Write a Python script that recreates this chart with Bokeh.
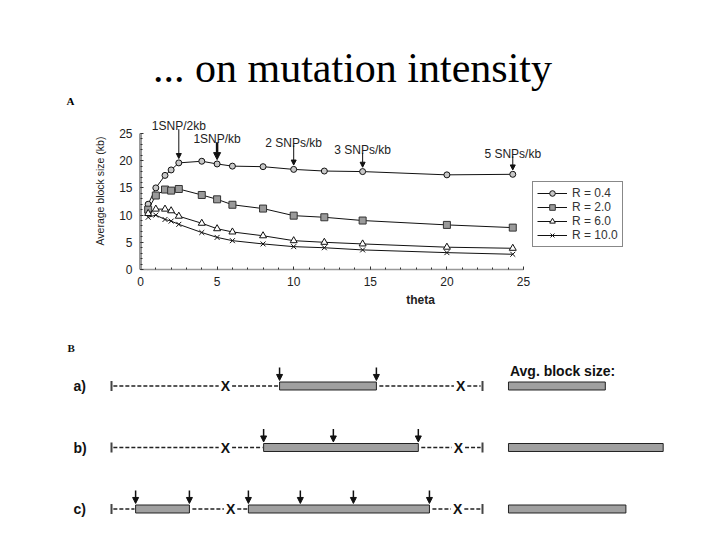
import numpy as np
from bokeh.plotting import figure
from bokeh.models import (Range1d, ColumnDataSource, Arrow, NormalHead,
                          Legend, LegendItem, SingleIntervalTicker)
from bokeh.layouts import column
from bokeh.embed import file_html
from bokeh.resources import INLINE
from bokeh.core.properties import value

# ---------------- data: panel A ----------------
theta = [0.5, 1.0, 1.6, 2.0, 2.5, 4.0, 5.0, 6.0, 8.0, 10.0, 12.0, 14.5, 20.0, 24.3]
r04 = [12.0, 15.0, 17.3, 18.3, 19.6, 19.9, 19.4, 19.0, 18.9, 18.4, 18.1, 18.0, 17.4, 17.5]
r20 = [11.0, 13.6, 14.7, 14.5, 14.8, 13.7, 12.9, 11.9, 11.2, 9.9, 9.6, 9.0, 8.2, 7.7]
r60 = [10.3, 11.1, 11.1, 10.8, 9.8, 8.5, 7.5, 6.9, 6.2, 5.3, 5.0, 4.7, 4.1, 3.9]
r100 = [9.6, 10.0, 9.2, 8.9, 8.3, 6.8, 5.9, 5.3, 4.7, 4.2, 4.0, 3.6, 3.1, 2.8]
series_labels = ["R = 0.4", "R = 2.0", "R = 6.0", "R = 10.0"]
snp_labels = ["1SNP/2kb", "1SNP/kb", "2 SNPs/kb", "3 SNPs/kb", "5 SNPs/kb"]
snp_theta = [2.5, 5.0, 10.0, 14.5, 24.3]
title_text = "... on mutation intensity"
x_label = "theta"
y_label = "Average block size (kb)"

# ---------------- data: panel B ----------------
row_names = ["a)", "b)", "c)"]
row_x_marks = [[30.7, 94.1], [30.7, 93.5], [32.1, 93.3]]
row_blocks = [[(45.3, 71.4)], [(41.0, 82.7)], [(6.5, 21.0), (36.9, 85.7)]]
row_snps = [[45.3, 71.4], [41.0, 59.8, 82.7], [6.5, 21.0, 36.9, 50.9, 65.2, 85.7]]
region = (0.0, 100.0)
avg_title = "Avg. block size:"

SANS = value("Liberation Sans")
SERIF = value("Liberation Serif")
W = 720

# ================= header strip (title + panel letter) =================
p0 = figure(width=W, height=110, x_range=Range1d(0, W), y_range=Range1d(110, 0),
            output_backend="svg", toolbar_location=None, x_axis_type=None, y_axis_type=None,
            min_border=0, min_border_left=0, min_border_right=0, min_border_top=0, min_border_bottom=0)
p0.frame_align = False
p0.outline_line_color = None
p0.grid.visible = False
p0.text(x=[352], y=[67], text=[title_text], text_font=SERIF, text_font_size="42px",
        text_align="center", text_baseline="alphabetic", text_color="black")
p0.text(x=[66], y=[100], text=["A"], text_font=SERIF, text_font_size="11px", text_font_style="bold",
        text_align="left", text_baseline="alphabetic", text_color="black")

# ================= Panel A chart =================
PXX = 15.32   # px per theta unit
PXY = 5.44    # px per kb
FRAME_W = 560
FRAME_H = 157
XEND = FRAME_W / PXX
YTOP = FRAME_H / PXY
pA = figure(width=W, height=210, x_range=Range1d(0, XEND), y_range=Range1d(0, YTOP),
            output_backend="svg", toolbar_location=None,
            min_border_left=140, min_border_right=W - 140 - FRAME_W, min_border_top=2, min_border_bottom=51)
pA.frame_align = False
pA.outline_line_color = None
pA.grid.visible = False

for ax, lab in ((pA.xaxis[0], x_label), (pA.yaxis[0], y_label)):
    ax.bounds = (0, 25)
    ax.ticker = SingleIntervalTicker(interval=5, num_minor_ticks=5)
    ax.major_tick_in = 3
    ax.major_tick_out = 0
    ax.minor_tick_in = 2
    ax.minor_tick_out = 0
    ax.major_tick_line_color = "#333333"
    ax.minor_tick_line_color = "#333333"
    ax.major_label_text_font = "Liberation Sans"
    ax.major_label_text_font_size = "12px"
    ax.major_label_text_color = "#222222"
    ax.axis_label = lab
    ax.axis_label_text_font = "Liberation Sans"
    ax.axis_label_text_color = "#222222"

pA.xaxis.axis_line_color = "#999999"
pA.xaxis.axis_line_width = 1.5
pA.xaxis.major_label_standoff = 7
pA.xaxis.axis_label_standoff = 4
pA.xaxis.axis_label_text_font_size = "12px"
pA.xaxis.axis_label_text_font_style = "bold"
pA.yaxis.axis_line_color = "#999999"
pA.yaxis.axis_line_width = 3
pA.yaxis.major_label_standoff = 8
pA.yaxis.axis_label_standoff = 10
pA.yaxis.axis_label_text_font_size = "10.5px"
pA.yaxis.axis_label_text_font_style = "normal"

styles = [
    dict(marker="circle", size=6, fill_color="#c8c8c8", line_color="#111111"),
    dict(marker="square", size=7, fill_color="#9a9a9a", line_color="#333333"),
    dict(marker="triangle", size=7, fill_color="white", line_color="#111111"),
    dict(marker="x", size=7, fill_color=None, line_color="#111111"),
]
items = []
for ys, lab, st in zip([r04, r20, r60, r100], series_labels, styles):
    src = ColumnDataSource(dict(x=theta, y=ys))
    ln = pA.line("x", "y", source=src, line_color="#111111", line_width=1)
    sc = pA.scatter("x", "y", source=src, marker=st["marker"], size=st["size"],
                    fill_color=st["fill_color"], line_color=st["line_color"], line_width=1)
    items.append(LegendItem(label=lab, renderers=[ln, sc]))

leg = Legend(items=items, location=(392, 22), orientation="vertical",
             border_line_color="#111111", border_line_width=1,
             background_fill_color="white", background_fill_alpha=1,
             label_text_font="Liberation Sans", label_text_font_size="12px",
             label_text_color="#333333", glyph_width=30, glyph_height=14,
             label_height=14, label_standoff=5, spacing=0, padding=4, margin=0)
pA.add_layout(leg)

# SNP density annotations
lab_y = [26.3, 23.9, 23.3, 21.9, 21.3]
widths = [1, 2.5, 1, 1, 1]
top_val = dict(zip(theta, r04))
pA.text(x=snp_theta, y=lab_y, text=snp_labels, text_font=SANS, text_font_size="12px",
        text_align="center", text_baseline="alphabetic", text_color="#222222")
for t, ly, w in zip(snp_theta, lab_y, widths):
    pA.add_layout(Arrow(x_start=t, y_start=ly - 0.5, x_end=t, y_end=top_val[t] + 0.8,
                        line_width=w, line_color="#111111",
                        end=NormalHead(size=5 if w < 2 else 7, fill_color="#111111",
                                       line_color="#111111")))

# ================= Panel B diagram =================
UPX = 3.71      # px per region unit
U0 = 111        # px of region start
RPX = 61.5      # px per row
R0 = 65.5       # px (within strip) of first row
HB = 220
pB = figure(width=W, height=HB, x_range=Range1d(-U0 / UPX, (W - U0) / UPX),
            y_range=Range1d((HB - R0) / RPX, -R0 / RPX),
            output_backend="svg", toolbar_location=None, x_axis_type=None, y_axis_type=None,
            min_border=0, min_border_left=0, min_border_right=0, min_border_top=0, min_border_bottom=0)
pB.frame_align = False
pB.outline_line_color = None
pB.grid.visible = False

HALF = 0.065
# dashed connecting lines
sx0, sx1, sy = [], [], []
for i in range(3):
    occ = [(m - 1.8, m + 1.8) for m in row_x_marks[i]] + [(s - 0.3, e + 0.8) for s, e in row_blocks[i]]
    occ.sort()
    cur = region[0] + 0.5
    for a, b in occ:
        if a > cur:
            sx0.append(cur); sx1.append(a); sy.append(i)
        cur = max(cur, b)
    if cur < region[1] - 0.5:
        sx0.append(cur); sx1.append(region[1] - 0.5); sy.append(i)
pB.segment(x0=sx0, y0=sy, x1=sx1, y1=sy, line_color="#222222", line_width=1.3, line_dash="4 2")

# region end bars
ex, ey0, ey1 = [], [], []
for i in range(3):
    for e in region:
        ex.append(e); ey0.append(i - 0.08); ey1.append(i + 0.08)
pB.segment(x0=ex, y0=ey0, x1=ex, y1=ey1, line_color="#444444", line_width=2)

# recombination X marks
xm_x = [m for i in range(3) for m in row_x_marks[i]]
xm_y = [i for i in range(3) for m in row_x_marks[i]]
pB.text(x=xm_x, y=xm_y, text=["X"] * len(xm_x), text_font=SANS, text_font_size="14px",
        text_font_style="bold", text_align="center", text_baseline="middle", text_color="#111111")

# blocks
bl, br, bt, bb = [], [], [], []
for i in range(3):
    for s, e in row_blocks[i]:
        bl.append(s); br.append(e); bt.append(i - HALF); bb.append(i + HALF)
pB.quad(left=bl, right=br, top=bt, bottom=bb, fill_color="#a0a0a0", line_color="#222222", line_width=1)

# average block size bars
avg_start = 107.0
avg_len = [float(np.mean([e - s for s, e in row_blocks[i]])) for i in range(3)]
pB.quad(left=[avg_start] * 3, right=[avg_start + L for L in avg_len],
        top=[i - HALF for i in range(3)], bottom=[i + HALF for i in range(3)],
        fill_color="#a0a0a0", line_color="#222222", line_width=1)

# SNP arrows
ax_, ay0, ay1 = [], [], []
for i in range(3):
    for s in row_snps[i]:
        ax_.append(s); ay0.append(i - 0.30); ay1.append(i - 0.09)
pB.add_layout(Arrow(x_start="x0", y_start="y0", x_end="x0", y_end="y1",
                    source=ColumnDataSource(dict(x0=ax_, y0=ay0, y1=ay1)),
                    line_color="#111111", line_width=1.5,
                    end=NormalHead(size=6, fill_color="#111111", line_color="#111111")))

# texts
pB.text(x=[(73 - U0) / UPX] * 3, y=[0, 1, 2], text=row_names, text_font=SANS, text_font_size="14px",
        text_font_style="bold", text_align="left", text_baseline="middle", text_color="#111111")
pB.text(x=[avg_start + 0.4], y=[-0.25], text=[avg_title], text_font=SANS, text_font_size="14px",
        text_font_style="bold", text_align="left", text_baseline="alphabetic", text_color="#111111")
pB.text(x=[(67 - U0) / UPX], y=[-0.626], text=["B"], text_font=SERIF, text_font_size="11px",
        text_font_style="bold", text_align="left", text_baseline="alphabetic", text_color="#111111")

layout = column(p0, pA, pB, spacing=0)
open("out.html", "w").write(file_html(layout, INLINE))
